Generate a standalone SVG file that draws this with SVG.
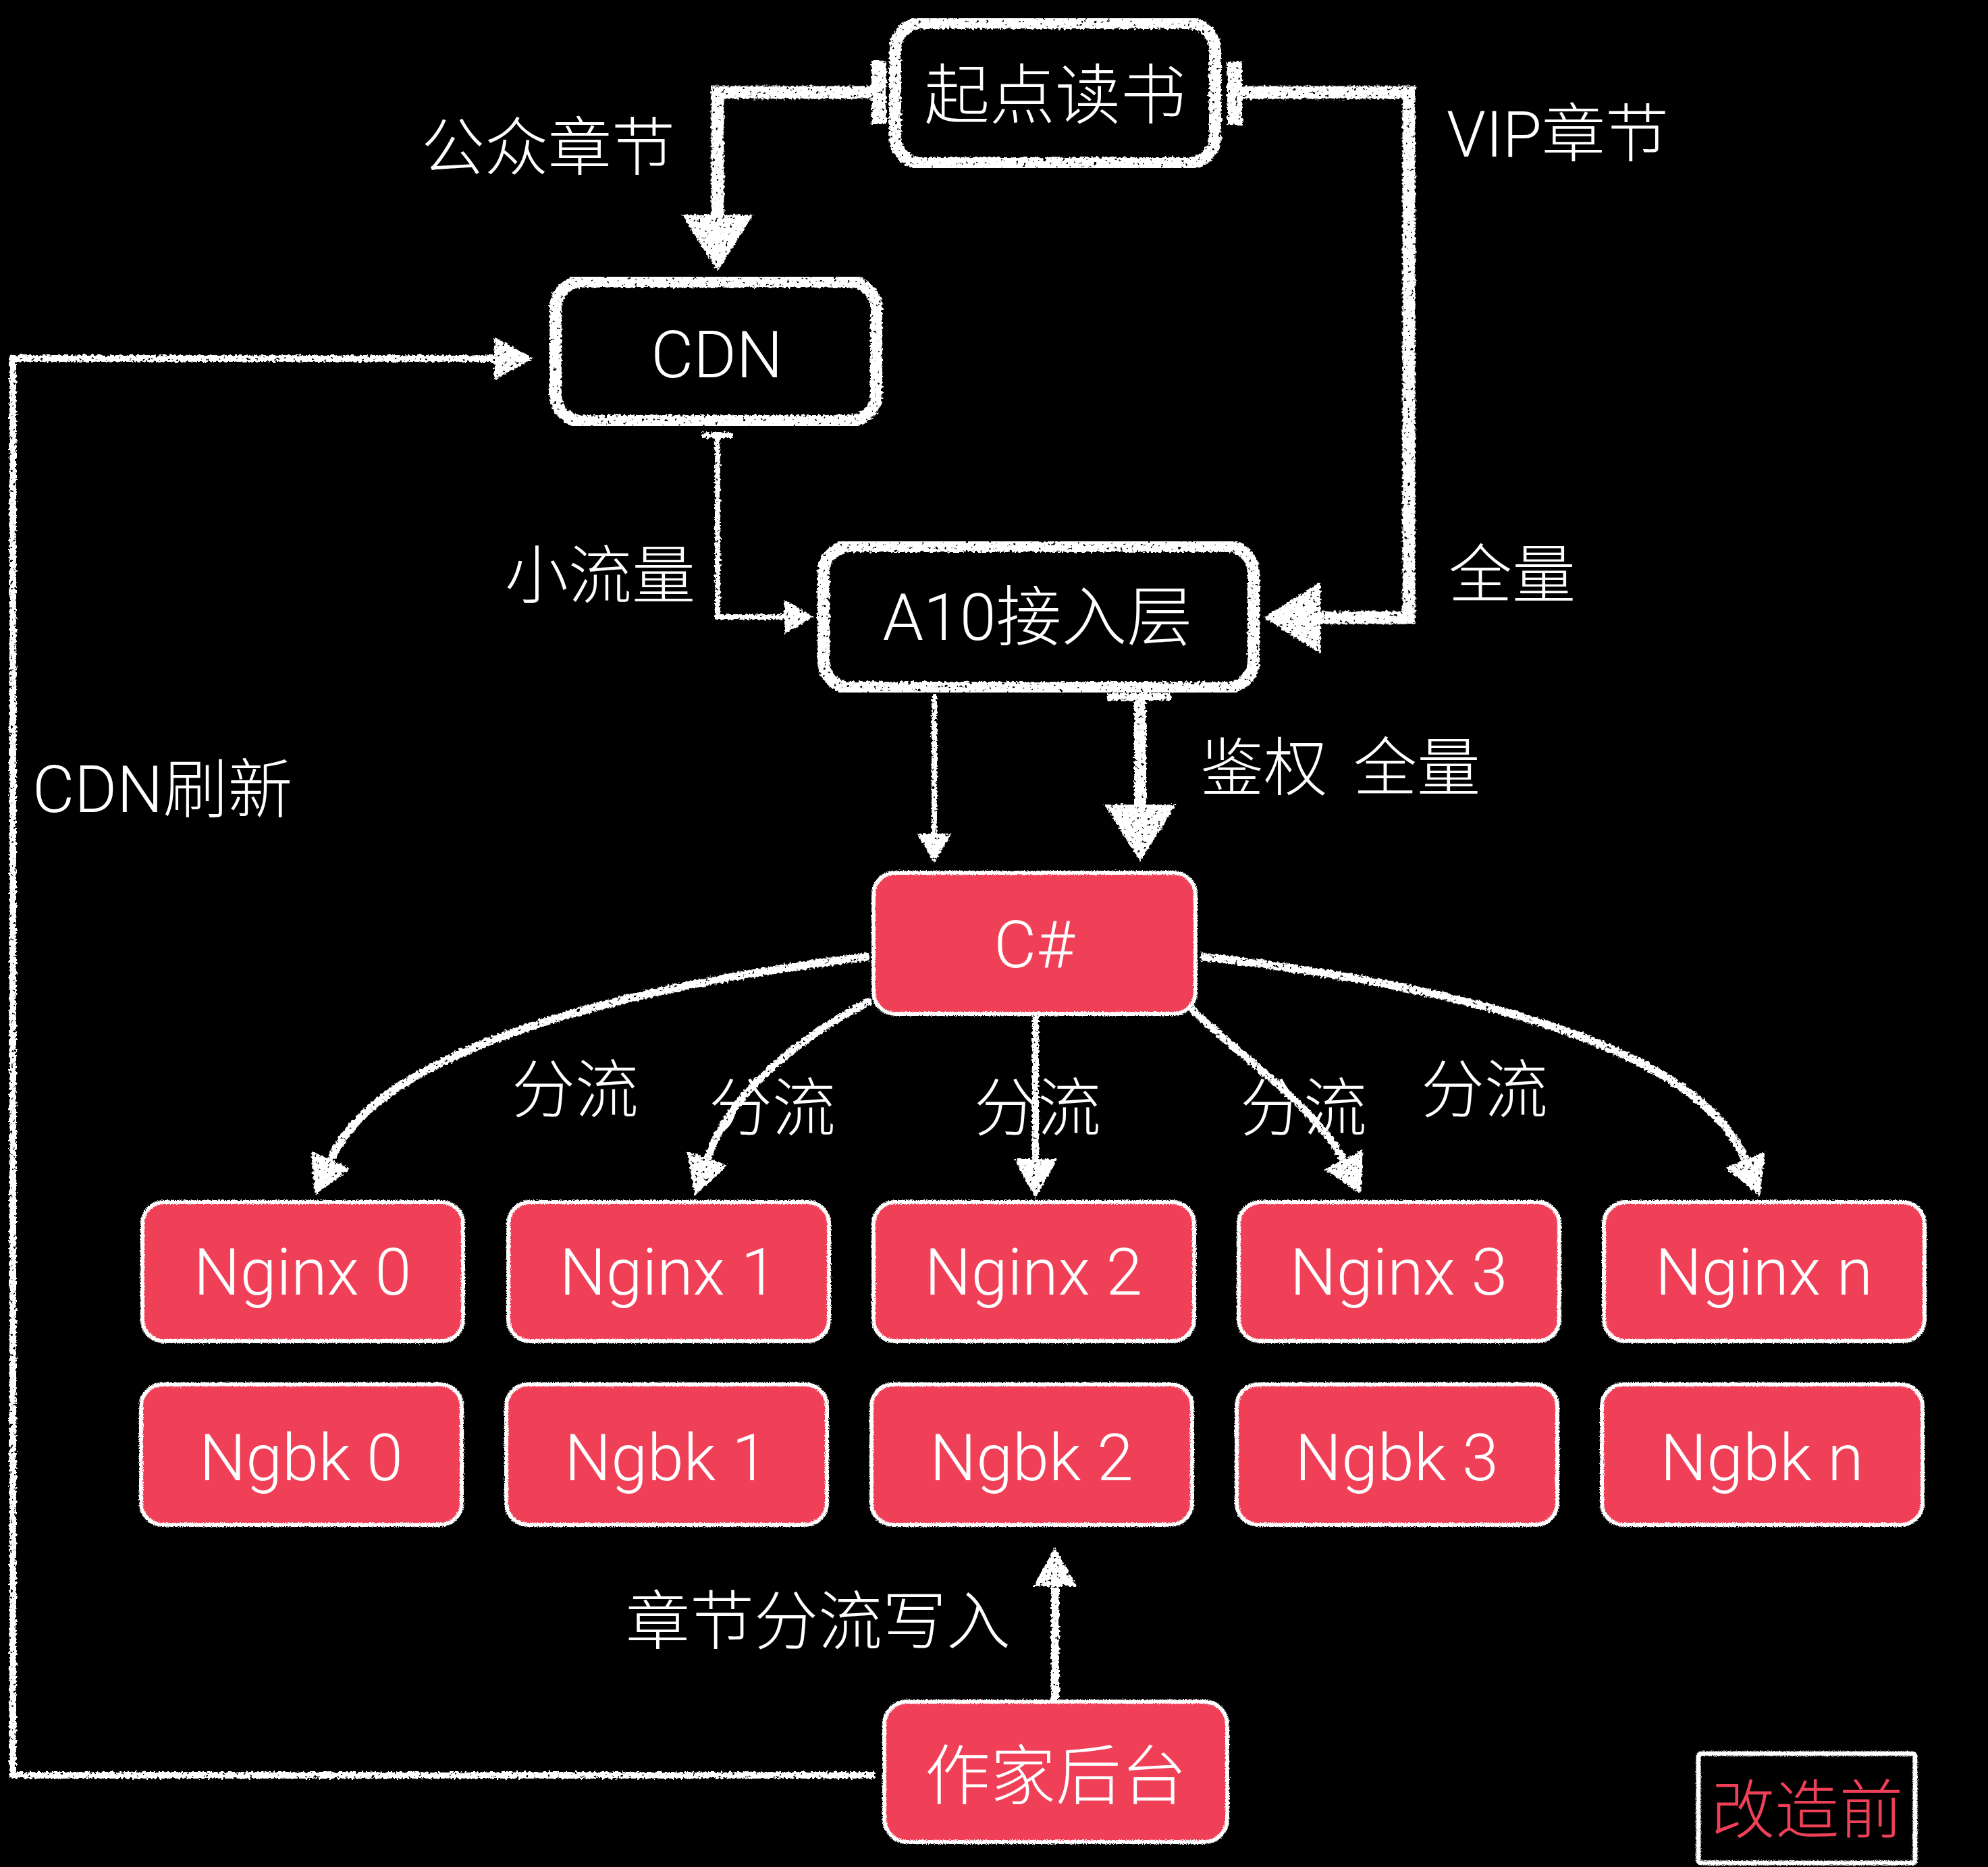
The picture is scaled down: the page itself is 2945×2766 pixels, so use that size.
<svg xmlns="http://www.w3.org/2000/svg" width="2945" height="2766" viewBox="0 0 2945 2766">
<style>
.t{fill:#fff;font-family:Roboto,"Liberation Sans","Noto Sans CJK SC",sans-serif;font-weight:300;font-size:94px}
.c{text-anchor:middle}
.nt{font-size:97px}
.bo{fill:none;stroke:#fff;stroke-width:18}
.rf{fill:#EF4058}
.ro{fill:none;stroke:#fff;stroke-width:6}
.ln{fill:none;stroke:#fff;stroke-linecap:butt;stroke-linejoin:miter}
.bar{fill:#fff}
</style>
<defs>
<filter id="chalk" x="-3%" y="-3%" width="106%" height="106%" color-interpolation-filters="sRGB">
<feTurbulence type="fractalNoise" baseFrequency="0.25" numOctaves="3" seed="7" result="noise"/>
<feDisplacementMap in="SourceGraphic" in2="noise" scale="7" xChannelSelector="R" yChannelSelector="G" result="disp"/>
<feTurbulence type="fractalNoise" baseFrequency="0.2" numOctaves="2" seed="2" result="n2"/>
<feColorMatrix in="n2" type="matrix" values="0 0 0 0 0  0 0 0 0 0  0 0 0 0 0  -14 0 0 0 10.5" result="mask"/>
<feComposite in="disp" in2="mask" operator="in"/>
</filter>
<filter id="edge" x="-5%" y="-5%" width="110%" height="110%" color-interpolation-filters="sRGB">
<feTurbulence type="fractalNoise" baseFrequency="0.8" numOctaves="2" seed="4" result="noise"/>
<feDisplacementMap in="SourceGraphic" in2="noise" scale="5" xChannelSelector="R" yChannelSelector="G"/>
</filter>
<marker id="ahL" markerUnits="userSpaceOnUse" markerWidth="84" markerHeight="106" viewBox="0 0 84 106" refX="0" refY="53" orient="auto"><path d="M0,0 L84,53 L0,106 Z" fill="#fff"/></marker>
<marker id="ahM" markerUnits="userSpaceOnUse" markerWidth="58" markerHeight="64" viewBox="0 0 58 64" refX="0" refY="32" orient="auto"><path d="M0,0 L58,32 L0,64 Z" fill="#fff"/></marker>
<marker id="ahS" markerUnits="userSpaceOnUse" markerWidth="43" markerHeight="51" viewBox="0 0 43 51" refX="0" refY="25.5" orient="auto"><path d="M0,0 L43,25.5 L0,51 Z" fill="#fff"/></marker>
</defs>
<rect x="0" y="0" width="2945" height="2766" fill="#000"/>

<g id="connectors" filter="url(#chalk)">
<path class="ln" stroke-width="19" d="M1300,137 H1063 V318" marker-end="url(#ahL)"/>
<rect class="bar" x="1291" y="90" width="22" height="94"/>
<path class="ln" stroke-width="19" d="M1830,137 H2087 V915 H1956" marker-end="url(#ahL)"/>
<rect class="bar" x="1818" y="91" width="22" height="94"/>
<path class="ln" stroke-width="8" d="M1063,645 V914 H1162" marker-end="url(#ahS)"/>
<rect class="bar" x="1040" y="640" width="45" height="9"/>
<path class="ln" stroke-width="8" d="M1384,1028 V1235" marker-end="url(#ahS)"/>
<path class="ln" stroke-width="18" d="M1689,1030 V1192" marker-end="url(#ahL)"/>
<rect class="bar" x="1640" y="1027" width="95" height="11"/>
<path class="ln" stroke-width="12" d="M1288,1417 C900,1465 560,1560 490,1718" marker-end="url(#ahM)"/>
<path class="ln" stroke-width="11" d="M1290,1482 C1180,1540 1080,1620 1048,1716" marker-end="url(#ahM)"/>
<path class="ln" stroke-width="10" d="M1534,1505 V1717" marker-end="url(#ahM)"/>
<path class="ln" stroke-width="11" d="M1764,1493 C1830,1560 1950,1640 1990,1718" marker-end="url(#ahM)"/>
<path class="ln" stroke-width="12" d="M1779,1417 C2200,1465 2520,1560 2585,1718" marker-end="url(#ahM)"/>
<path class="ln" stroke-width="12" d="M1563,2518 V2350" marker-end="url(#ahM)"/>
<path class="ln" stroke-width="10" d="M1296,2630 H19 V531 H732" marker-end="url(#ahM)"/>
</g>

<g id="labels">
<text class="t c" x="812" y="252">公众章节</text>
<text class="t" x="2143" y="232">VIP章节</text>
<text class="t" x="1030" y="886" text-anchor="end">小流量</text>
<text class="t" x="2146" y="885">全量</text>
<text class="t" x="1778" y="1171" word-spacing="16">鉴权 全量</text>
<text class="t" x="48" y="1203" style="font-size:96px">CDN刷新</text>
<text class="t" x="758" y="1648">分流</text>
<text class="t" x="1050" y="1675">分流</text>
<text class="t" x="1443" y="1675">分流</text>
<text class="t" x="1837" y="1675">分流</text>
<text class="t" x="2105" y="1648">分流</text>
<text class="t" x="927" y="2436" style="font-size:95px">章节分流写入</text>
</g>

<g id="n-qidian">
<rect class="bo" x="1326" y="34" width="474" height="208" rx="40" filter="url(#chalk)"/>
<text class="t c nt" x="1563" y="175">起点读书</text>
</g>
<g id="n-cdn">
<rect class="bo" x="823" y="417" width="475" height="207" rx="40" filter="url(#chalk)"/>
<text class="t c nt" x="1062" y="559">CDN</text>
</g>
<g id="n-a10">
<rect class="bo" x="1220" y="809" width="637" height="210" rx="40" filter="url(#chalk)"/>
<text class="t c nt" x="1537" y="948">A10接入层</text>
</g>
<g id="n-csharp">
<rect class="rf" x="1294" y="1293" width="477" height="209" rx="32"/>
<rect class="ro" x="1294" y="1293" width="477" height="209" rx="32" filter="url(#edge)"/>
<text class="t c nt" x="1532" y="1433">C#</text>
</g>

<g id="n-nginx0">
<rect class="rf" x="211" y="1781" width="475" height="206" rx="32"/>
<rect class="ro" x="211" y="1781" width="475" height="206" rx="32" filter="url(#edge)"/>
<text class="t c nt" x="448" y="1918">Nginx 0</text>
</g>
<g id="n-nginx1">
<rect class="rf" x="753" y="1781" width="475" height="206" rx="32"/>
<rect class="ro" x="753" y="1781" width="475" height="206" rx="32" filter="url(#edge)"/>
<text class="t c nt" x="990" y="1918">Nginx 1</text>
</g>
<g id="n-nginx2">
<rect class="rf" x="1294" y="1781" width="475" height="206" rx="32"/>
<rect class="ro" x="1294" y="1781" width="475" height="206" rx="32" filter="url(#edge)"/>
<text class="t c nt" x="1531" y="1918">Nginx 2</text>
</g>
<g id="n-nginx3">
<rect class="rf" x="1835" y="1781" width="475" height="206" rx="32"/>
<rect class="ro" x="1835" y="1781" width="475" height="206" rx="32" filter="url(#edge)"/>
<text class="t c nt" x="2072" y="1918">Nginx 3</text>
</g>
<g id="n-nginxn">
<rect class="rf" x="2376" y="1781" width="475" height="206" rx="32"/>
<rect class="ro" x="2376" y="1781" width="475" height="206" rx="32" filter="url(#edge)"/>
<text class="t c nt" x="2613" y="1918">Nginx n</text>
</g>

<g id="n-ngbk0">
<rect class="rf" x="209" y="2051" width="475" height="208" rx="32"/>
<rect class="ro" x="209" y="2051" width="475" height="208" rx="32" filter="url(#edge)"/>
<text class="t c nt" x="446" y="2193">Ngbk 0</text>
</g>
<g id="n-ngbk1">
<rect class="rf" x="750" y="2051" width="475" height="208" rx="32"/>
<rect class="ro" x="750" y="2051" width="475" height="208" rx="32" filter="url(#edge)"/>
<text class="t c nt" x="987" y="2193">Ngbk 1</text>
</g>
<g id="n-ngbk2">
<rect class="rf" x="1291" y="2051" width="475" height="208" rx="32"/>
<rect class="ro" x="1291" y="2051" width="475" height="208" rx="32" filter="url(#edge)"/>
<text class="t c nt" x="1528" y="2193">Ngbk 2</text>
</g>
<g id="n-ngbk3">
<rect class="rf" x="1832" y="2051" width="475" height="208" rx="32"/>
<rect class="ro" x="1832" y="2051" width="475" height="208" rx="32" filter="url(#edge)"/>
<text class="t c nt" x="2069" y="2193">Ngbk 3</text>
</g>
<g id="n-ngbkn">
<rect class="rf" x="2373" y="2051" width="475" height="208" rx="32"/>
<rect class="ro" x="2373" y="2051" width="475" height="208" rx="32" filter="url(#edge)"/>
<text class="t c nt" x="2610" y="2193">Ngbk n</text>
</g>

<g id="n-writer">
<rect class="rf" x="1310" y="2521" width="508" height="208" rx="34"/>
<rect class="ro" x="1310" y="2521" width="508" height="208" rx="34" filter="url(#edge)"/>
<text class="t c nt" x="1564" y="2665">作家后台</text>
</g>

<g id="n-before">
<rect fill="none" stroke="#fff" stroke-width="7" x="2516" y="2598" width="321" height="162" rx="4" filter="url(#edge)"/>
<text class="t c" x="2677" y="2716" style="fill:#EF4058;font-size:95px">改造前</text>
</g>
</svg>
